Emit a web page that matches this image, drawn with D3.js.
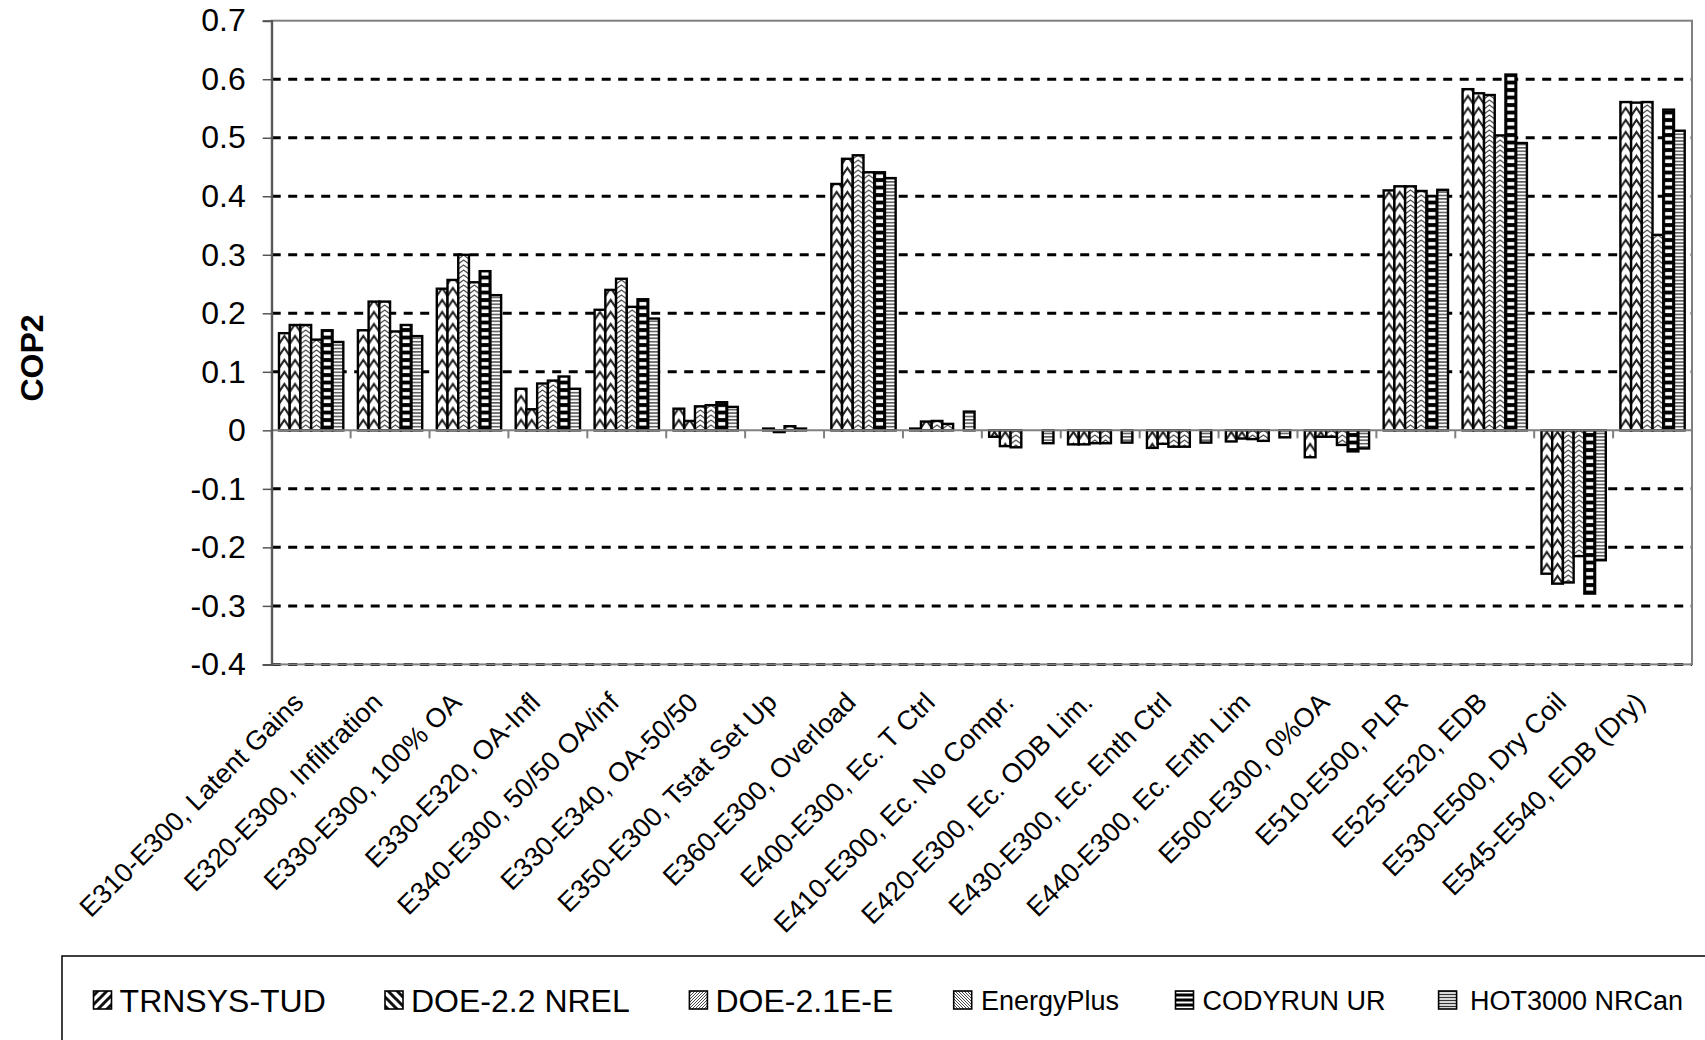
<!DOCTYPE html>
<html>
<head>
<meta charset="utf-8">
<script src="https://cdn.jsdelivr.net/npm/d3@7"></script>
<style>
  body { margin: 0; background: #fff; }
  text { font-family: "Liberation Sans", Arial, sans-serif; fill: #000; }
</style>
</head>
<body>
<script>
// ---- data ----
const categories = [
  'E310-E300, Latent Gains', 'E320-E300, Infiltration', 'E330-E300, 100% OA',
  'E330-E320, OA-Infl', 'E340-E300, 50/50 OA/inf', 'E330-E340, OA-50/50',
  'E350-E300, Tstat Set Up', 'E360-E300, Overload', 'E400-E300, Ec. T Ctrl',
  'E410-E300, Ec. No Compr.', 'E420-E300, Ec. ODB Lim.', 'E430-E300, Ec. Enth Ctrl',
  'E440-E300, Ec. Enth Lim', 'E500-E300, 0%OA', 'E510-E500, PLR',
  'E525-E520, EDB', 'E530-E500, Dry Coil', 'E545-E540, EDB (Dry)'
];
const seriesNames = ['TRNSYS-TUD', 'DOE-2.2 NREL', 'DOE-2.1E-E', 'EnergyPlus', 'CODYRUN UR', 'HOT3000 NRCan'];

// null = no bar drawn
const trnsys     = [0.166, 0.171, 0.242, 0.071, 0.206, 0.037, null,   0.421, 0.003, -0.011, -0.024, -0.030, -0.019, -0.046, 0.410, 0.583, -0.245, 0.561];
const doe22      = [0.180, 0.220, 0.257, 0.036, 0.240, 0.016, 0.003,  0.464, 0.015, -0.027, -0.024, -0.023, -0.014, -0.011, 0.417, 0.576, -0.262, 0.560];
const doe21e     = [0.180, 0.220, 0.300, 0.080, 0.259, 0.041, -0.003, 0.470, 0.016, -0.029, -0.022, -0.028, -0.015, -0.011, 0.417, 0.573, -0.260, 0.561];
const energyPlus = [0.155, 0.169, 0.253, 0.085, 0.211, 0.043, 0.007,  0.441, 0.011, null,   -0.022, -0.028, -0.018, -0.025, 0.409, 0.504, -0.215, 0.334];
const codyrun    = [0.171, 0.180, 0.272, 0.092, 0.224, 0.048, 0.003,  0.441, null,  null,   null,   null,   null,   -0.036, 0.400, 0.608, -0.279, 0.548];
const hot3000    = [0.151, 0.161, 0.231, 0.071, 0.191, 0.040, null,   0.431, 0.032, -0.022, -0.021, -0.021, -0.012, -0.031, 0.411, 0.491, -0.222, 0.512];
const seriesValues = [trnsys, doe22, doe21e, energyPlus, codyrun, hot3000];

const yTicks = [-0.4, -0.3, -0.2, -0.1, 0, 0.1, 0.2, 0.3, 0.4, 0.5, 0.6, 0.7];

// ---- layout ----
const W = 1705, H = 1040;
const plotL = 271.7, plotR = 1692, plotT = 20.7, plotB = 664.4;

const svg = d3.select('body').append('svg')
  .attr('width', W)
  .attr('height', H);
const defs = svg.append('defs');

const y = d3.scaleLinear().domain([-0.4, 0.7]).range([plotB, plotT]);
const x = d3.scaleBand().domain(categories).range([plotL, plotR]).padding(0);
const xs = d3.scaleBand().domain(seriesNames).range([0, x.bandwidth()])
  .paddingInner(0).paddingOuter(0.68);
const bw = xs.bandwidth();

// gridlines
svg.append('g')
  .selectAll('line')
  .data(yTicks.filter(d => d !== 0 && d !== 0.7))
  .enter()
  .append('line')
  .attr('x1', plotL).attr('x2', plotR)
  .attr('y1', d => y(d)).attr('y2', d => y(d))
  .attr('stroke', '#000')
  .attr('stroke-width', 3)
  .attr('stroke-dasharray', '9,7.5');

// plot border
svg.append('rect')
  .attr('x', plotL).attr('y', plotT)
  .attr('width', plotR - plotL).attr('height', plotB - plotT)
  .attr('fill', 'none')
  .attr('stroke', '#808080')
  .attr('stroke-width', 2);

// one pattern per bar so the chevrons line up with each bar
const bars = [];
seriesValues.forEach((vals, s) => {
  vals.forEach((v, c) => {
    if (v === null) return;
    bars.push({ s: s, c: c, v: v, x: x(categories[c]) + xs(seriesNames[s]) });
  });
});

const period = [12, 12, 5, 5, 7.5, 3.4];
const rise = [8, 8, 4, 4];

const pats = defs.selectAll('pattern.bar')
  .data(bars)
  .enter()
  .append('pattern')
  .attr('class', 'bar')
  .attr('id', d => 'pb-' + d.s + '-' + d.c)
  .attr('patternUnits', 'userSpaceOnUse')
  .attr('x', d => d.x)
  .attr('y', 0)
  .attr('width', bw)
  .attr('height', d => period[d.s]);

pats.append('rect')
  .attr('width', bw)
  .attr('height', d => period[d.s])
  .attr('fill', d => d.s === 4 ? '#000' : '#fff');

pats.each(function(d) {
  const p = d3.select(this);
  const h = period[d.s];
  if (d.s <= 3) {
    // chevrons
    const r = rise[d.s];
    let path = '';
    for (let k = -1; k <= 1; k++) {
      const o = k * h;
      path += `M0,${o + r} L${bw / 2},${o} L${bw},${o + r} `;
    }
    p.append('path')
      .attr('d', path)
      .attr('fill', 'none')
      .attr('stroke', d.s <= 1 ? '#222' : '#444')
      .attr('stroke-width', d.s <= 1 ? 2.1 : 1.1);
  } else if (d.s === 4) {
    p.append('rect')
      .attr('x', 1.8).attr('y', 2)
      .attr('width', bw - 3.6).attr('height', 3.6)
      .attr('fill', '#fff');
  } else {
    p.append('rect')
      .attr('x', 0).attr('y', 0.9)
      .attr('width', bw).attr('height', 1.5)
      .attr('fill', '#555');
  }
});

svg.append('g')
  .selectAll('rect')
  .data(bars)
  .enter()
  .append('rect')
  .attr('x', d => d.x)
  .attr('y', d => y(Math.max(0, d.v)))
  .attr('width', bw)
  .attr('height', d => Math.abs(y(d.v) - y(0)))
  .attr('fill', d => 'url(#pb-' + d.s + '-' + d.c + ')')
  .attr('stroke', '#000')
  .attr('stroke-width', 2.4);

// x axis at zero, with ticks at category boundaries
const xAxis = svg.append('g');
xAxis.append('line')
  .attr('x1', plotL).attr('x2', plotR)
  .attr('y1', y(0)).attr('y2', y(0))
  .attr('stroke', '#808080')
  .attr('stroke-width', 2);
xAxis.selectAll('line.tick')
  .data(categories.map(c => x(c)).concat([plotR]))
  .enter()
  .append('line')
  .attr('class', 'tick')
  .attr('x1', d => d).attr('x2', d => d)
  .attr('y1', y(0)).attr('y2', y(0) + 8)
  .attr('stroke', '#808080')
  .attr('stroke-width', 2);

// y axis
const yAxis = svg.append('g')
  .attr('transform', `translate(${plotL},0)`)
  .call(d3.axisLeft(y)
    .tickValues(yTicks)
    .tickSize(9)
    .tickPadding(17)
    .tickFormat(d => d === 0 ? '0' : d.toFixed(1)));
yAxis.select('.domain').attr('stroke', '#555').attr('stroke-width', 2);
yAxis.selectAll('.tick line').attr('stroke', '#555').attr('stroke-width', 1.5);
yAxis.selectAll('.tick text')
  .attr('font-size', 32)
  .attr('fill', '#000')
  .style('font-family', '"Liberation Sans", Arial, sans-serif');

// y axis title
svg.append('text')
  .attr('transform', 'translate(43,358) rotate(-90)')
  .attr('text-anchor', 'middle')
  .attr('font-size', 32)
  .attr('font-weight', 'bold')
  .text('COP2');

// category labels
svg.append('g')
  .selectAll('text')
  .data(categories)
  .enter()
  .append('text')
  .attr('transform', d => `translate(${x(d) + x.bandwidth() / 2 - 6},704) rotate(-45)`)
  .attr('text-anchor', 'end')
  .attr('font-size', 27)
  .text(d => d);

// ---- legend ----
function hatch(id, size, path, sw, col, bg) {
  const p = defs.append('pattern')
    .attr('id', id)
    .attr('patternUnits', 'userSpaceOnUse')
    .attr('width', size).attr('height', size);
  p.append('rect').attr('width', size).attr('height', size).attr('fill', bg || '#fff');
  p.append('path').attr('d', path).attr('stroke', col).attr('stroke-width', sw).attr('fill', 'none');
}
hatch('lg0', 9, 'M0,9 L9,0 M-2,2 L2,-2 M7,11 L11,7', 3, '#111');
hatch('lg1', 9, 'M0,0 L9,9 M-2,7 L2,11 M7,-2 L11,2', 3, '#111');
hatch('lg2', 3, 'M0,3 L3,0 M-1,1 L1,-1 M2,4 L4,2', 0.9, '#333');
hatch('lg3', 3, 'M0,0 L3,3 M-1,2 L1,4 M2,-1 L4,1', 0.9, '#333');
hatch('lg4', 5, 'M0,2.5 L5,2.5', 2, '#fff', '#000');
hatch('lg5', 3, 'M0,1.5 L3,1.5', 1.4, '#333');

const legendX = [93.5, 385, 689.4, 953.7, 1175.5, 1438.6];
const legendTextX = [119.6, 411, 715.5, 980.9, 1202.6, 1470];
const legendFont = [32, 32, 32, 27, 27, 27];

svg.append('rect')
  .attr('x', 62).attr('y', 956)
  .attr('width', 1700).attr('height', 200)
  .attr('fill', 'none')
  .attr('stroke', '#000')
  .attr('stroke-width', 1.5);

const leg = svg.append('g')
  .selectAll('g')
  .data(seriesNames)
  .enter()
  .append('g');

leg.append('rect')
  .attr('x', (d, i) => legendX[i])
  .attr('y', 991)
  .attr('width', 18).attr('height', 18)
  .attr('fill', (d, i) => 'url(#lg' + i + ')')
  .attr('stroke', '#000')
  .attr('stroke-width', 1.6);

leg.append('text')
  .attr('x', (d, i) => legendTextX[i])
  .attr('y', (d, i) => 1000 + legendFont[i] * 0.36)
  .attr('font-size', (d, i) => legendFont[i])
  .text(d => d);
</script>
</body>
</html>
